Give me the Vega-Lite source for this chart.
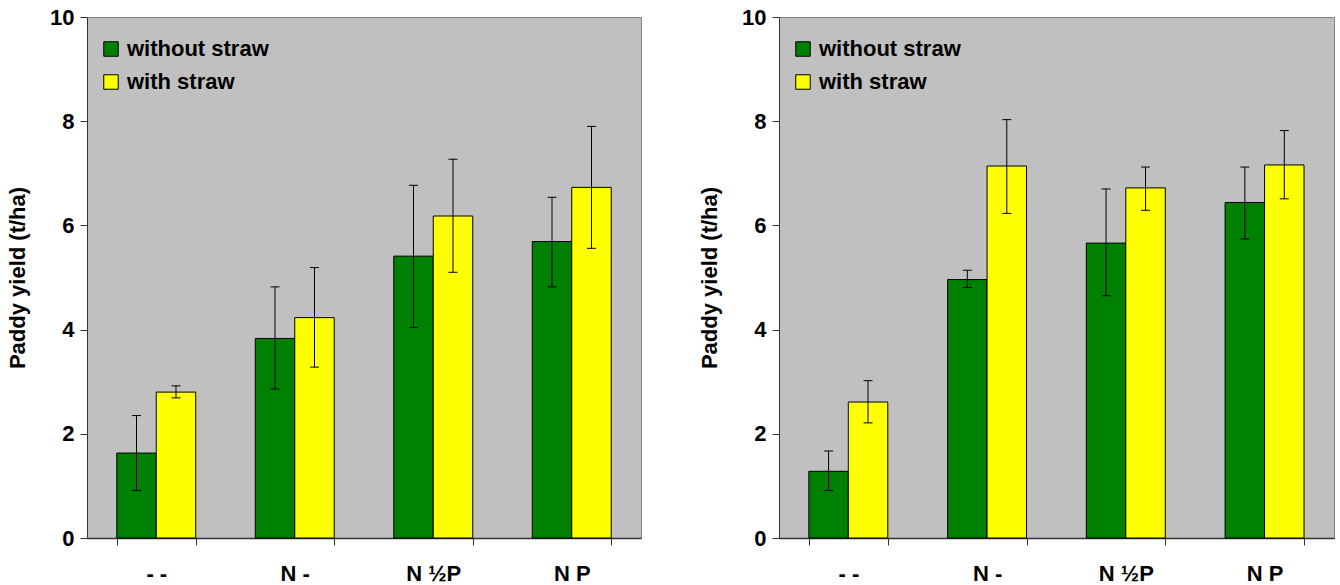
{
  "$schema": "https://vega.github.io/schema/vega-lite/v6.json",
  "padding": {"left": 6, "top": 5, "right": 0, "bottom": 0},
  "background": "#ffffff",
  "spacing": 56,
  "datasets": {
    "yield": [
      {"panel": "A", "treatment": "- -", "straw": "without straw", "mean": 1.63, "lo": 0.91, "hi": 2.35},
      {"panel": "A", "treatment": "- -", "straw": "with straw", "mean": 2.80, "lo": 2.69, "hi": 2.92},
      {"panel": "A", "treatment": "N -", "straw": "without straw", "mean": 3.83, "lo": 2.86, "hi": 4.82},
      {"panel": "A", "treatment": "N -", "straw": "with straw", "mean": 4.23, "lo": 3.28, "hi": 5.19},
      {"panel": "A", "treatment": "N ½P", "straw": "without straw", "mean": 5.41, "lo": 4.04, "hi": 6.77},
      {"panel": "A", "treatment": "N ½P", "straw": "with straw", "mean": 6.18, "lo": 5.10, "hi": 7.27},
      {"panel": "A", "treatment": "N P", "straw": "without straw", "mean": 5.69, "lo": 4.82, "hi": 6.54},
      {"panel": "A", "treatment": "N P", "straw": "with straw", "mean": 6.73, "lo": 5.56, "hi": 7.90},
      {"panel": "B", "treatment": "- -", "straw": "without straw", "mean": 1.28, "lo": 0.91, "hi": 1.67},
      {"panel": "B", "treatment": "- -", "straw": "with straw", "mean": 2.61, "lo": 2.21, "hi": 3.02},
      {"panel": "B", "treatment": "N -", "straw": "without straw", "mean": 4.96, "lo": 4.81, "hi": 5.14},
      {"panel": "B", "treatment": "N -", "straw": "with straw", "mean": 7.14, "lo": 6.23, "hi": 8.03},
      {"panel": "B", "treatment": "N ½P", "straw": "without straw", "mean": 5.66, "lo": 4.65, "hi": 6.70},
      {"panel": "B", "treatment": "N ½P", "straw": "with straw", "mean": 6.72, "lo": 6.29, "hi": 7.12},
      {"panel": "B", "treatment": "N P", "straw": "without straw", "mean": 6.44, "lo": 5.74, "hi": 7.12},
      {"panel": "B", "treatment": "N P", "straw": "with straw", "mean": 7.16, "lo": 6.51, "hi": 7.82}
    ]
  },
  "resolve": {"legend": {"color": "independent"}},
  "hconcat": [
    {
      "width": 554,
      "height": 521,
      "data": {"name": "yield"},
      "transform": [{"filter": "datum.panel == 'A'"}],
      "encoding": {
        "x": {"field": "treatment", "type": "nominal", "sort": ["- -", "N -", "N ½P", "N P"],
              "scale": {"paddingInner": 0.43, "paddingOuter": 0.215},
              "axis": {"title": null}},
        "xOffset": {"field": "straw", "type": "nominal", "sort": ["without straw", "with straw"]},
        "y": {"field": "mean", "type": "quantitative", "scale": {"domain": [0, 10], "nice": false},
              "axis": {"values": [0, 2, 4, 6, 8, 10], "title": "Paddy yield (t/ha)"}}
      },
      "layer": [
        {
          "mark": {"type": "bar", "stroke": "#000000", "strokeWidth": 1},
          "encoding": {
            "color": {"field": "straw", "type": "nominal",
                      "scale": {"domain": ["without straw", "with straw"], "range": ["#008000", "#FFFF00"]},
                      "legend": {"orient": "none", "legendX": 13, "legendY": 21}}
          }
        },
        {
          "mark": {"type": "rule", "color": "#000000", "strokeWidth": 1},
          "encoding": {"y": {"field": "lo", "type": "quantitative"}, "y2": {"field": "hi"}}
        },
        {
          "mark": {"type": "tick", "orient": "horizontal", "size": 9, "thickness": 1, "color": "#000000", "opacity": 1},
          "encoding": {"y": {"field": "lo", "type": "quantitative"}}
        },
        {
          "mark": {"type": "tick", "orient": "horizontal", "size": 9, "thickness": 1, "color": "#000000", "opacity": 1},
          "encoding": {"y": {"field": "hi", "type": "quantitative"}}
        }
      ]
    },
    {
      "width": 555,
      "height": 521,
      "data": {"name": "yield"},
      "transform": [{"filter": "datum.panel == 'B'"}],
      "encoding": {
        "x": {"field": "treatment", "type": "nominal", "sort": ["- -", "N -", "N ½P", "N P"],
              "scale": {"paddingInner": 0.43, "paddingOuter": 0.215},
              "axis": {"title": null}},
        "xOffset": {"field": "straw", "type": "nominal", "sort": ["without straw", "with straw"]},
        "y": {"field": "mean", "type": "quantitative", "scale": {"domain": [0, 10], "nice": false},
              "axis": {"values": [0, 2, 4, 6, 8, 10], "title": "Paddy yield (t/ha)"}}
      },
      "layer": [
        {
          "mark": {"type": "bar", "stroke": "#000000", "strokeWidth": 1},
          "encoding": {
            "color": {"field": "straw", "type": "nominal",
                      "scale": {"domain": ["without straw", "with straw"], "range": ["#008000", "#FFFF00"]},
                      "legend": {"orient": "none", "legendX": 13, "legendY": 21}}
          }
        },
        {
          "mark": {"type": "rule", "color": "#000000", "strokeWidth": 1},
          "encoding": {"y": {"field": "lo", "type": "quantitative"}, "y2": {"field": "hi"}}
        },
        {
          "mark": {"type": "tick", "orient": "horizontal", "size": 9, "thickness": 1, "color": "#000000", "opacity": 1},
          "encoding": {"y": {"field": "lo", "type": "quantitative"}}
        },
        {
          "mark": {"type": "tick", "orient": "horizontal", "size": 9, "thickness": 1, "color": "#000000", "opacity": 1},
          "encoding": {"y": {"field": "hi", "type": "quantitative"}}
        }
      ]
    }
  ],
  "config": {
    "font": "Liberation Sans",
    "view": {"fill": "#C0C0C0", "stroke": "#808080", "strokeWidth": 1},
    "axis": {
      "grid": false,
      "domainColor": "#333333",
      "tickColor": "#333333",
      "tickSize": 7,
      "labelFontSize": 22,
      "labelFontWeight": "bold",
      "labelColor": "#000000",
      "titleFontSize": 22,
      "titleFontWeight": "bold",
      "titleColor": "#000000"
    },
    "axisY": {"labelPadding": 6, "titlePadding": 20},
    "axisX": {"labelAngle": 0, "tickBand": "extent", "labelPadding": 18, "domainWidth": 1.5},
    "legend": {
      "title": null,
      "symbolType": "square",
      "symbolSize": 210,
      "symbolStrokeColor": "#000000",
      "symbolStrokeWidth": 1,
      "symbolOpacity": 1,
      "labelFontSize": 22,
      "labelFontWeight": "bold",
      "labelColor": "#000000",
      "labelOffset": 5,
      "rowPadding": 11,
      "padding": 0
    }
  }
}
